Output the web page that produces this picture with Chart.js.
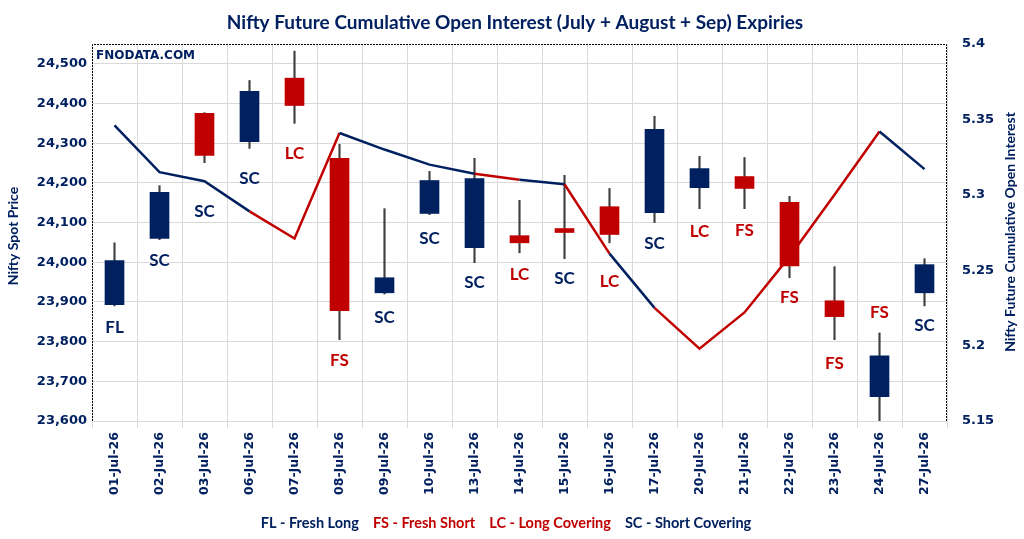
<!DOCTYPE html>
<html>
<head>
<meta charset="utf-8">
<script src="https://cdn.jsdelivr.net/npm/chart.js@4.4.1/dist/chart.umd.min.js"></script>
<style>
  body { margin: 0; background: #fff; }
  #wrap { width: 1024px; height: 539px; }
</style>
</head>
<body>
<div id="wrap"><canvas id="myCanvas" width="1024" height="539"></canvas></div>
<script>
'use strict';

// data
const dates = ['01-Jul-26', '02-Jul-26', '03-Jul-26', '06-Jul-26', '07-Jul-26', '08-Jul-26', '09-Jul-26',
  '10-Jul-26', '13-Jul-26', '14-Jul-26', '15-Jul-26', '16-Jul-26', '17-Jul-26', '20-Jul-26',
  '21-Jul-26', '22-Jul-26', '23-Jul-26', '24-Jul-26', '27-Jul-26'];
const openP  = [23893, 24060, 24375, 24304, 24464, 24262, 23923, 24123, 24037, 24067, 24085, 24140, 24125, 24188, 24216, 24151, 23903, 23661, 23923];
const closeP = [24004, 24176, 24269, 24431, 24395, 23878, 23961, 24206, 24211, 24049, 24075, 24070, 24335, 24236, 24186, 23991, 23863, 23764, 23994];
const highP  = [24049, 24193, 24377, 24458, 24532, 24297, 24135, 24229, 24262, 24156, 24219, 24186, 24368, 24267, 24264, 24166, 23989, 23822, 24009];
const lowP   = [23890, 24057, 24251, 24287, 24350, 23805, 23920, 24120, 23999, 24024, 24009, 24049, 24100, 24135, 24135, 23961, 23805, 23600, 23890];
const openInterest = [5.346, 5.315, 5.309, 5.289, 5.271, 5.341, 5.330, 5.320, 5.314, 5.310, 5.307, 5.261, 5.225, 5.198, 5.222, 5.259, 5.300, 5.342, 5.317];
const signals = ['FL', 'SC', 'SC', 'SC', 'LC', 'FS', 'SC', 'SC', 'SC', 'LC', 'SC', 'LC', 'SC', 'LC', 'FS', 'FS', 'FS', 'FS', 'SC'];
// price level where each signal text sits
const signalLevel = [23835, 24004, 24128, 24211, 24274, 23752, 23860, 24060, 23948, 23969, 23959, 23951, 24047, 24077, 24080, 23911, 23744, 23873, 23840];
const legendItems = [['FL', 'Fresh Long'], ['FS', 'Fresh Short'], ['LC', 'Long Covering'], ['SC', 'Short Covering']];

const NAVY = '#002060';
const RED = '#C00000';
const GRID = '#d9d9d9';
const TICK_FONT = 'DejaVu Sans';
const TEXT_FONT = 'Lato';

function signalColor(s) {
  return (s === 'FL' || s === 'SC') ? NAVY : RED;
}

const wickData = dates.map((d, i) => [lowP[i], highP[i]]);
const bodyData = dates.map((d, i) => [openP[i], closeP[i]]);
const bodyColors = dates.map((d, i) => closeP[i] >= openP[i] ? NAVY : RED);

const decor = {
  id: 'decor',
  afterDatasetsDraw(chart) {
    const ctx = chart.ctx;
    const x = chart.scales.x;
    const y = chart.scales.y;
    ctx.save();
    ctx.font = 'bold 17px ' + TEXT_FONT;
    ctx.textAlign = 'center';
    ctx.textBaseline = 'middle';
    for (let i = 0; i < signals.length; i++) {
      ctx.fillStyle = signalColor(signals[i]);
      ctx.fillText(signals[i], x.getPixelForValue(i), y.getPixelForValue(signalLevel[i]));
    }
    ctx.restore();
  },
  afterDraw(chart) {
    const ctx = chart.ctx;
    const a = chart.chartArea;
    ctx.save();
    // dotted plot border
    ctx.strokeStyle = '#000';
    ctx.lineWidth = 1;
    ctx.setLineDash([2, 1]);
    ctx.beginPath();
    ctx.moveTo(a.left + 0.5, a.bottom);
    ctx.lineTo(a.left + 0.5, a.top + 0.5);
    ctx.lineTo(a.right - 0.5, a.top + 0.5);
    ctx.lineTo(a.right - 0.5, a.bottom);
    ctx.stroke();
    ctx.setLineDash([]);

    // title
    ctx.fillStyle = NAVY;
    ctx.textBaseline = 'middle';
    ctx.textAlign = 'center';
    ctx.font = 'bold 19px ' + TEXT_FONT;
    ctx.fillText('Nifty Future Cumulative Open Interest (July + August + Sep) Expiries', 515, 23);

    // watermark
    ctx.textAlign = 'left';
    ctx.font = 'bold 12px ' + TICK_FONT;
    ctx.fillText('FNODATA.COM', a.left + 4, a.top + 12);

    // axis titles
    ctx.font = 'bold 14px ' + TEXT_FONT;
    ctx.textAlign = 'center';
    ctx.save();
    ctx.translate(13, 236);
    ctx.rotate(-Math.PI / 2);
    ctx.fillText('Nifty Spot Price', 0, 0);
    ctx.restore();
    ctx.save();
    ctx.translate(1010, 232);
    ctx.rotate(-Math.PI / 2);
    ctx.fillText('Nifty Future Cumulative Open Interest', 0, 0);
    ctx.restore();

    // bottom legend
    ctx.font = 'bold 14.5px ' + TEXT_FONT;
    ctx.textAlign = 'left';
    const gap = 14;
    const parts = legendItems.map(it => it[0] + ' - ' + it[1]);
    let total = 0;
    parts.forEach(p => { total += ctx.measureText(p).width; });
    total += gap * (parts.length - 1);
    let cx = 506 - total / 2;
    parts.forEach((p, i) => {
      ctx.fillStyle = signalColor(legendItems[i][0]);
      ctx.fillText(p, cx, 523);
      cx += ctx.measureText(p).width + gap;
    });
    ctx.restore();
  }
};

const data = {
  labels: dates,
  datasets: [
    {
      type: 'line',
      label: 'Open Interest',
      data: openInterest,
      yAxisID: 'y1',
      borderColor: NAVY,
      borderWidth: 2.5,
      pointRadius: 0,
      tension: 0,
      segment: {
        borderColor: c => signalColor(signals[c.p1DataIndex])
      },
      order: 0
    },
    {
      label: 'Body',
      data: bodyData,
      yAxisID: 'y',
      backgroundColor: bodyColors,
      barThickness: 19,
      grouped: false,
      order: 1
    },
    {
      label: 'Wick',
      data: wickData,
      yAxisID: 'y',
      backgroundColor: '#404040',
      barThickness: 1.5,
      grouped: false,
      order: 2
    }
  ]
};

const config = {
  type: 'bar',
  data: data,
  options: {
    responsive: false,
    animation: false,
    devicePixelRatio: 1,
    layout: { padding: { top: 44, left: 0, right: 0, bottom: 0 } },
    plugins: {
      legend: { display: false },
      tooltip: { enabled: false }
    },
    scales: {
      x: {
        offset: true,
        grid: { color: GRID, offset: true, tickLength: 7 },
        border: { display: false },
        ticks: {
          autoSkip: false,
          minRotation: 90,
          maxRotation: 90,
          padding: 4,
          color: NAVY,
          font: { family: TICK_FONT, weight: 'bold', size: 12.5 }
        },
        afterFit: s => { s.height = 118; }
      },
      y: {
        position: 'left',
        min: 23600,
        max: 24550,
        grid: { color: GRID, drawTicks: false },
        border: { display: false },
        ticks: {
          stepSize: 100,
          padding: 5,
          color: NAVY,
          font: { family: TICK_FONT, weight: 'bold', size: 13 },
          callback: v => v.toLocaleString('en-US')
        },
        afterBuildTicks: s => { s.ticks = s.ticks.filter(t => t.value % 100 === 0); },
        afterFit: s => { s.width = 92; }
      },
      y1: {
        position: 'right',
        min: 5.15,
        max: 5.4,
        grid: { display: false, drawTicks: false },
        border: { display: false },
        ticks: {
          stepSize: 0.05,
          padding: 15,
          color: NAVY,
          font: { family: TICK_FONT, weight: 'bold', size: 13 },
          callback: v => String(+v.toFixed(2))
        },
        afterFit: s => { s.width = 77; }
      }
    }
  },
  plugins: [decor]
};

const chart = document.getElementById('myCanvas');
const myChart = new Chart(chart, config);
</script>
</body>
</html>
